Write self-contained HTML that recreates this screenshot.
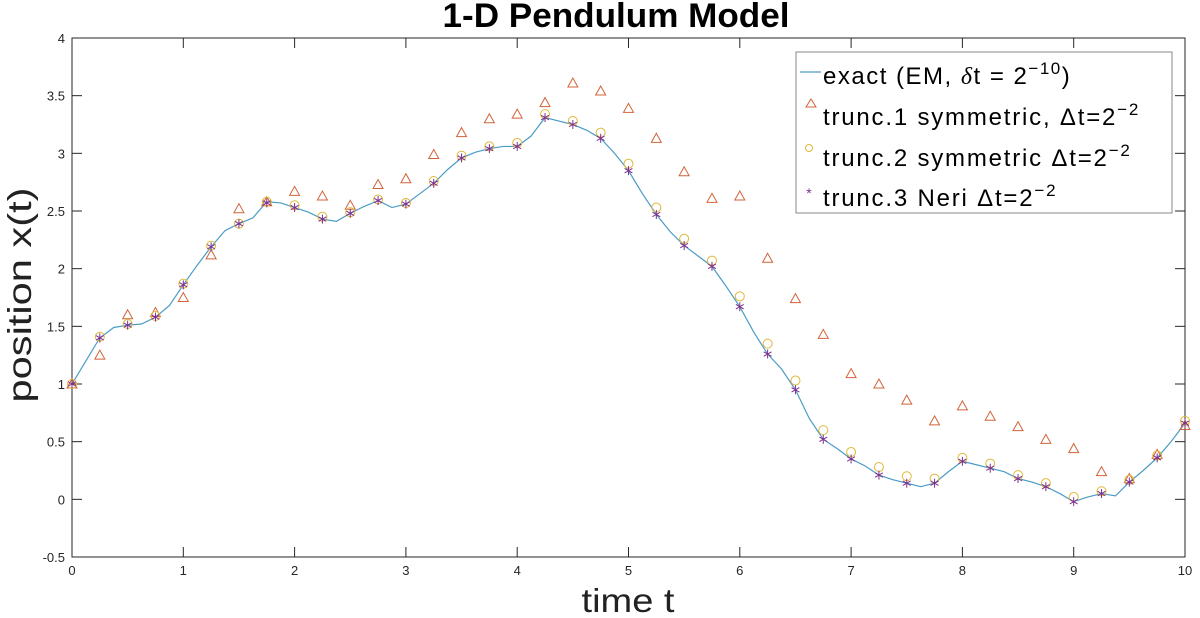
<!DOCTYPE html>
<html><head><meta charset="utf-8">
<style>
html,body{margin:0;padding:0;background:#fff;}
svg{display:block;font-family:"Liberation Sans",sans-serif;}
</style></head>
<body>
<svg id="chart" width="1200" height="618" xmlns="http://www.w3.org/2000/svg">
<rect x="0" y="0" width="1200" height="618" fill="#fff"/>
<text x="616" y="27" text-anchor="middle" font-size="34" font-weight="bold" textLength="347" lengthAdjust="spacingAndGlyphs">1-D Pendulum Model</text>
<text x="628" y="612" text-anchor="middle" font-size="33" textLength="93" lengthAdjust="spacingAndGlyphs" fill="#222">time t</text>
<text transform="translate(31,295) rotate(-90)" text-anchor="middle" font-size="33" textLength="215" lengthAdjust="spacingAndGlyphs" fill="#222">position x(t)</text>
<g id="axes"></g>
<g id="series"></g>
<g>
<rect x="796" y="52" width="376" height="161" fill="#fff" stroke="#888" stroke-width="1"/>
<line x1="800" y1="72" x2="821" y2="72" stroke="#4a9cc6" stroke-width="1.2"/>
<text x="823" y="84" font-size="24" letter-spacing="1.5">exact (EM, <tspan font-style="italic" font-family="Liberation Serif">δ</tspan>t = 2<tspan dy="-10" font-size="17">−10</tspan><tspan dy="10">)</tspan></text>
<path d="M806,107 L811,99 L816,107 Z" fill="none" stroke="#d1643a" stroke-width="1"/>
<text x="823" y="125" font-size="24" letter-spacing="1.8">trunc.1 symmetric, Δt=2<tspan dy="-10" font-size="17">−2</tspan></text>
<circle cx="809" cy="148" r="3.5" fill="none" stroke="#e0b838" stroke-width="1"/>
<text x="823" y="166" font-size="24" letter-spacing="1.8">trunc.2 symmetric Δt=2<tspan dy="-10" font-size="17">−2</tspan></text>
<text x="809" y="198" font-size="14" fill="#7e2f8e" text-anchor="middle">*</text>
<text x="823" y="206" font-size="24" letter-spacing="1.8">trunc.3 Neri Δt=2<tspan dy="-10" font-size="17">−2</tspan></text>
</g>
</svg>
<script>
const tSteps = [0,0.25,0.5,0.75,1,1.25,1.5,1.75,2,2.25,2.5,2.75,3,3.25,3.5,3.75,4,4.25,4.5,4.75,5,5.25,5.5,5.75,6,6.25,6.5,6.75,7,7.25,7.5,7.75,8,8.25,8.5,8.75,9,9.25,9.5,9.75,10];
const trunc1 = [1.0,1.25,1.6,1.62,1.75,2.12,2.52,2.58,2.67,2.63,2.55,2.73,2.78,2.99,3.18,3.30,3.34,3.44,3.61,3.54,3.39,3.13,2.84,2.61,2.63,2.09,1.74,1.43,1.09,1.00,0.86,0.68,0.81,0.72,0.63,0.52,0.44,0.24,0.18,0.39,0.64];
const trunc2 = [1.0,1.41,1.52,1.59,1.87,2.20,2.39,2.58,2.55,2.45,2.49,2.60,2.57,2.76,2.98,3.06,3.09,3.34,3.28,3.18,2.91,2.53,2.26,2.07,1.76,1.35,1.03,0.60,0.41,0.28,0.20,0.18,0.36,0.31,0.21,0.14,0.02,0.07,0.17,0.38,0.68];
const trunc3 = [1.0,1.40,1.51,1.58,1.86,2.19,2.39,2.57,2.53,2.43,2.48,2.59,2.56,2.74,2.96,3.04,3.06,3.31,3.25,3.13,2.85,2.47,2.20,2.02,1.67,1.26,0.95,0.52,0.35,0.21,0.14,0.14,0.33,0.27,0.18,0.11,-0.02,0.05,0.15,0.36,0.66];
const exactT = [0,0.125,0.25,0.375,0.5,0.625,0.75,0.875,1,1.125,1.25,1.375,1.5,1.625,1.75,1.875,2,2.125,2.25,2.375,2.5,2.625,2.75,2.875,3,3.125,3.25,3.375,3.5,3.625,3.75,3.875,4,4.125,4.25,4.375,4.5,4.625,4.75,4.875,5,5.125,5.25,5.375,5.5,5.625,5.75,5.875,6,6.125,6.25,6.375,6.5,6.625,6.75,6.875,7,7.125,7.25,7.375,7.5,7.625,7.75,7.875,8,8.125,8.25,8.375,8.5,8.625,8.75,8.875,9,9.125,9.25,9.375,9.5,9.625,9.75,9.875,10];
const exactX = [1.0,1.2,1.40,1.49,1.51,1.52,1.58,1.68,1.86,2.03,2.19,2.33,2.39,2.44,2.58,2.57,2.53,2.49,2.43,2.41,2.48,2.54,2.59,2.53,2.56,2.65,2.74,2.86,2.96,3.01,3.04,3.06,3.06,3.15,3.31,3.28,3.25,3.20,3.13,3.0,2.85,2.65,2.47,2.32,2.20,2.11,2.02,1.85,1.67,1.45,1.26,1.13,0.95,0.70,0.52,0.44,0.35,0.29,0.21,0.17,0.14,0.11,0.14,0.24,0.33,0.30,0.27,0.24,0.18,0.15,0.11,0.05,-0.02,0.02,0.05,0.03,0.15,0.25,0.36,0.50,0.66];
const xTicks = [0,1,2,3,4,5,6,7,8,9,10];
const yTicks = [-0.5,0,0.5,1,1.5,2,2.5,3,3.5,4];
const yTickLabels = ["-0.5","0","0.5","1","1.5","2","2.5","3","3.5","4"];

const L=72,R=1185,T=38,B=557;
const sx=v=>L+(v-0)/(10-0)*(R-L);
const sy=v=>B-(v+0.5)/(4.5)*(B-T);
const NS="http://www.w3.org/2000/svg";
function mk(tag,attrs,parent){const e=document.createElementNS(NS,tag);for(const k in attrs)e.setAttribute(k,attrs[k]);parent.appendChild(e);return e;}
const axes=document.getElementById('axes'), ser=document.getElementById('series');
const box=mk('rect',{x:L,y:T,width:R-L,height:B-T,fill:'none',stroke:'#262626','stroke-width':1},axes);


xTicks.forEach(v=>{
  const x=sx(v);
  mk('line',{x1:x,y1:B,x2:x,y2:B-10,stroke:'#262626'},axes);
  mk('line',{x1:x,y1:T,x2:x,y2:T+10,stroke:'#262626'},axes);
  const t=mk('text',{x:x,y:B+18,'text-anchor':'middle','font-size':13,fill:'#262626'},axes);
  t.textContent=v;
  
  
});
yTicks.forEach((v,i)=>{
  const y=sy(v);
  mk('line',{x1:L,y1:y,x2:L+10,y2:y,stroke:'#262626'},axes);
  mk('line',{x1:R,y1:y,x2:R-10,y2:y,stroke:'#262626'},axes);
  const t=mk('text',{x:L-7,y:y+5,'text-anchor':'end','font-size':13,fill:'#262626'},axes);
  t.textContent=yTickLabels[i];
  
  
});
const line=mk('polyline',{points:exactT.map((t,i)=>sx(t)+','+sy(exactX[i])).join(' '),fill:'none',stroke:'#4a9cc6','stroke-width':1.2},ser);


tSteps.forEach((t,i)=>{
  const x=sx(t), y1=sy(trunc1[i]);
  const p=mk('path',{d:`M${x-5},${y1+4} L${x},${y1-5} L${x+5},${y1+4} Z`,fill:'none',stroke:'#d1643a','stroke-width':1},ser);
  
  
  const c=mk('circle',{cx:x,cy:sy(trunc2[i]),r:4.5,fill:'none',stroke:'#e0b838','stroke-width':1},ser);
  
  
  const y3=sy(trunc3[i]);
  const g=mk('g',{stroke:'#7e2f8e','stroke-width':1},ser);
  
  
  [[0,4.5],[3.9,2.25],[3.9,-2.25]].forEach(([dx,dy])=>mk('line',{x1:x-dx,y1:y3-dy,x2:x+dx,y2:y3+dy},g));
});
</script>
</body></html>
